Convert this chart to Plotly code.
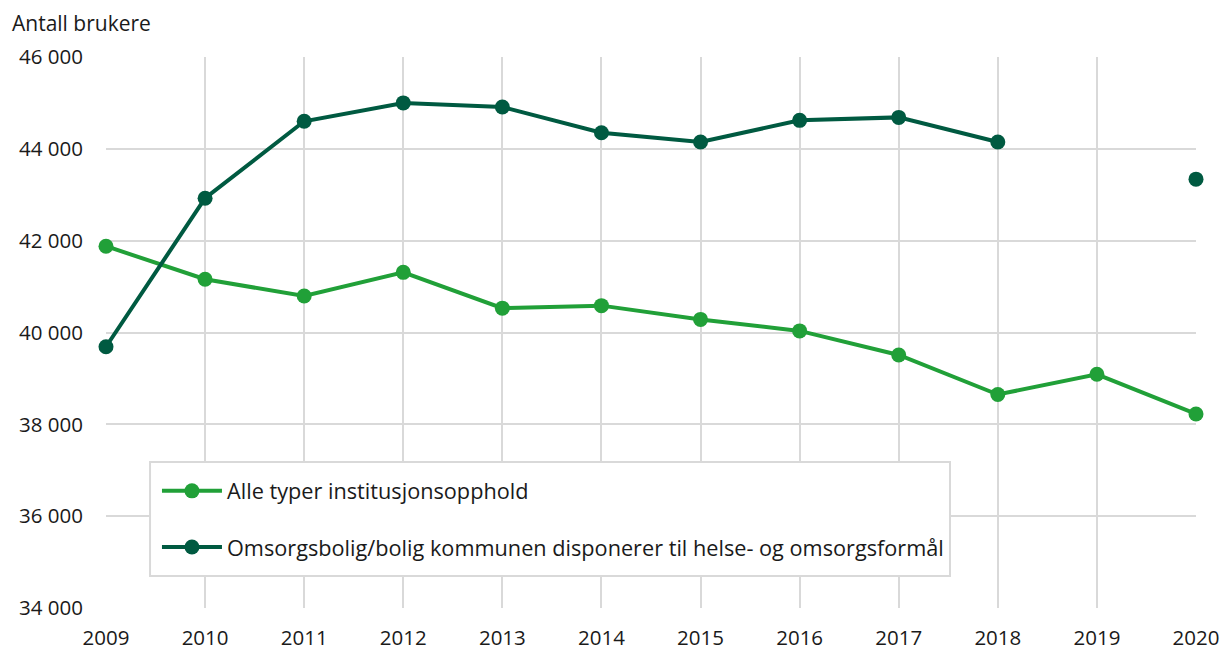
import plotly.graph_objects as go

years = [2009, 2010, 2011, 2012, 2013, 2014, 2015, 2016, 2017, 2018, 2019, 2020]
institusjon = [41880, 41160, 40795, 41310, 40530, 40585, 40285, 40035, 39510, 38650, 39090, 38225]
omsorgsbolig = [39690, 42925, 44600, 45000, 44910, 44350, 44150, 44620, 44685, 44150, None, 43340]
series_names = ["Alle typer institusjonsopphold",
                "Omsorgsbolig/bolig kommunen disponerer til helse- og omsorgsformål"]
y_ticks = [34000, 36000, 38000, 40000, 42000, 44000, 46000]
y_labels = ["34 000", "36 000", "38 000", "40 000", "42 000", "44 000", "46 000"]

LIGHT = "#21a038"
DARK = "#005a41"
GRID = "#d9d9d9"
TEXT = "#1a1a1a"
FONT = "Open Sans"

fig = go.Figure()
for name, vals, col, grp in [(series_names[0], institusjon, LIGHT, "a"),
                             (series_names[1], omsorgsbolig, DARK, "b")]:
    fig.add_trace(go.Scatter(
        x=years, y=vals, name=name, mode="lines+markers",
        line=dict(color=col, width=4), marker=dict(color=col, size=15),
        legendgroup=grp, connectgaps=False, cliponaxis=False,
    ))

fig.update_layout(
    width=1221, height=651,
    margin=dict(l=106, r=25, t=57, b=43),
    paper_bgcolor="white", plot_bgcolor="white",
    font=dict(family=FONT, size=20, color=TEXT),
    showlegend=True,
    legend=dict(
        x=0.0385, y=0.250, xanchor="left", yanchor="top",
        bgcolor="rgba(0,0,0,0)", borderwidth=0,
        font=dict(family=FONT, size=21.7, color=TEXT),
        tracegroupgap=25, itemwidth=60, indentation=9,
    ),
    # white framed box behind the legend entries
    shapes=[dict(
        type="rect", xref="paper", yref="paper",
        x0=0.0404, x1=0.7743, y0=0.0581, y1=0.265,
        fillcolor="white", line=dict(color=GRID, width=2), layer="above",
    )],
    xaxis=dict(
        range=[2009, 2020], tickmode="array", tickvals=years,
        ticktext=[str(y) for y in years],
        showgrid=True, gridcolor=GRID, gridwidth=2,
        zeroline=False, showline=False, ticks="",
        ticklabelstandoff=15, fixedrange=True, automargin=False,
        tickfont=dict(size=20.5),
    ),
    yaxis=dict(
        range=[34000, 46000], tickmode="array", tickvals=y_ticks, ticktext=y_labels,
        showgrid=True, gridcolor=GRID, gridwidth=2,
        zeroline=False, showline=False, ticks="",
        ticklabelstandoff=22, fixedrange=True, automargin=False,
        tickfont=dict(size=20.5),
    ),
    annotations=[dict(
        text="Antall brukere", xref="paper", yref="paper",
        x=-0.088, y=1.0, xanchor="left", yanchor="bottom", yshift=18,
        showarrow=False, font=dict(family=FONT, size=21, color=TEXT),
    )],
)

fig.write_html("out.html")
